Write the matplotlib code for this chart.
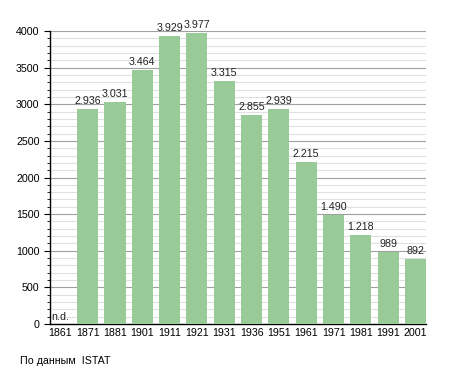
import matplotlib
matplotlib.use("Agg")
import matplotlib.pyplot as plt
from matplotlib.ticker import MultipleLocator

years = ["1861", "1871", "1881", "1901", "1911", "1921", "1931", "1936",
         "1951", "1961", "1971", "1981", "1991", "2001"]
population = [None, 2936, 3031, 3464, 3929, 3977, 3315, 2855, 2939, 2215,
              1490, 1218, 989, 892]
labels = ["n.d.", "2.936", "3.031", "3.464", "3.929", "3.977", "3.315", "2.855",
          "2.939", "2.215", "1.490", "1.218", "989", "892"]

plt.rcParams['font.family'] = ['Liberation Sans', 'DejaVu Sans']

fig = plt.figure(figsize=(4.55, 3.73), dpi=100)
ax = fig.add_axes([50/455, 49/373, 376/455, 293/373])

x = list(range(len(years)))
vals = [v if v is not None else 0 for v in population]
ax.bar(x, vals, width=0.77, color='#98cb98', zorder=3)

for xi, v, lab in zip(x, population, labels):
    if v is None:
        ax.text(xi - 0.33, 30, lab, ha='left', va='bottom', fontsize=7.7, color='#222222', zorder=4)
    else:
        ax.text(xi, v + 40, lab, ha='center', va='bottom', fontsize=7.7, color='#222222', zorder=4)

ax.set_xlim(-0.38, len(years) - 1 + 0.385)
ax.set_ylim(0, 4000)
ax.yaxis.set_major_locator(MultipleLocator(500))
ax.yaxis.set_minor_locator(MultipleLocator(100))
ax.grid(axis='y', which='major', color='#a0a0a0', linewidth=0.8, zorder=0)
ax.grid(axis='y', which='minor', color='#e0e0e0', linewidth=0.8, zorder=0)
ax.set_xticks(x)
ax.set_xticklabels(years)
ax.tick_params(axis='x', length=0, labelsize=7.7, pad=3)
ax.tick_params(axis='y', which='major', length=4, width=0.8, labelsize=7.7)
ax.tick_params(axis='y', which='minor', length=2, width=0.6)
for s in ['top', 'right']:
    ax.spines[s].set_visible(False)
ax.spines['left'].set_linewidth(1)
ax.spines['bottom'].set_linewidth(1)

fig.text(20/455, 1 - 361/373, "По данным  ISTAT", fontsize=7.7, va='center', ha='left')

fig.savefig("out.png", dpi=100)
